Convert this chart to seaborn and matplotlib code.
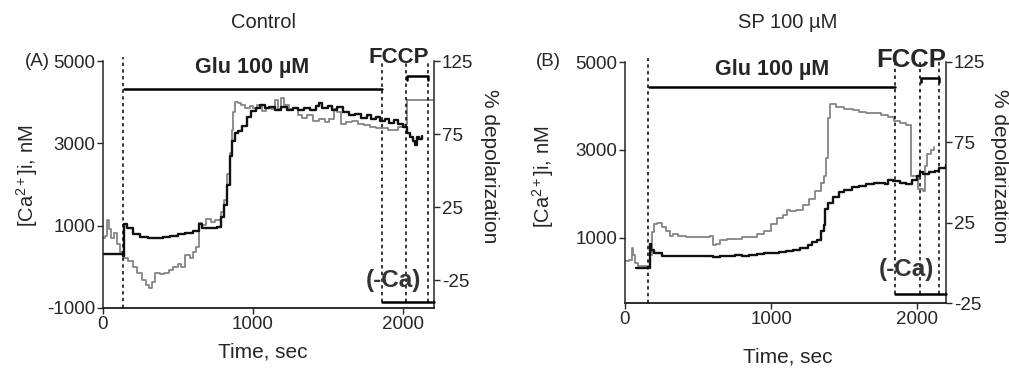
#%% libraries
import numpy as np
import pandas as pd
import seaborn as sb
import matplotlib.pyplot as plt

sb.set_style('ticks')
plt.rcParams['font.family'] = ['Liberation Sans', 'DejaVu Sans']
plt.rcParams['mathtext.fontset'] = 'custom'
plt.rcParams['mathtext.rm'] = 'Liberation Sans'
plt.rcParams['mathtext.it'] = 'Liberation Sans:italic'
plt.rcParams['axes.unicode_minus'] = False

#%% traces
# panel A (Control): black = [Ca2+]i (nM), grey = % depolarization
ctrl_ca_t = [0, 135, 140, 142, 160, 200, 250, 300, 350, 400, 450, 500, 550, 600, 640, 660, 700, 760,
             790, 810, 830, 845, 860, 880, 900, 930, 960, 990, 1020, 1050, 1080, 1110, 1150, 1190,
             1230, 1270, 1300, 1340, 1380, 1420, 1440, 1460, 1500, 1530, 1560, 1600, 1640, 1680,
             1720, 1760, 1790, 1820, 1850, 1880, 1910, 1940, 1970, 2000, 2030, 2050, 2070, 2080,
             2095, 2110, 2125]
ctrl_ca = [310, 260, 260, 1050, 950, 800, 720, 700, 700, 720, 760, 800, 820, 860, 1050, 950, 950, 970,
           1200, 1500, 2000, 2700, 3050, 3250, 3300, 3420, 3650, 3780, 3850, 3930, 3870, 3880, 3820, 3880,
           3800, 3860, 3800, 3870, 3820, 3900, 3980, 3850, 3900, 3820, 3880, 3750, 3700, 3720,
           3620, 3700, 3580, 3650, 3550, 3600, 3500, 3560, 3480, 3400, 3250, 3150, 3050, 2950,
           3150, 3100, 3180]
ctrl_dep_t = [0, 15, 25, 40, 55, 75, 95, 115, 140, 170, 200, 230, 260, 290, 310, 330, 350, 380, 410,
              440, 470, 500, 520, 550, 580, 600, 620, 640, 660, 690, 720, 750, 790, 810, 830, 845, 860,
              870, 880, 900, 920, 950, 980, 1000, 1030, 1060, 1090, 1120, 1150, 1170, 1190, 1210, 1240,
              1270, 1300, 1330, 1360, 1400, 1440, 1480, 1510, 1540, 1560, 1590, 1620, 1660, 1700, 1740,
              1780, 1820, 1860, 1900, 1940, 1970, 2000, 2020, 2025, 2200]
ctrl_dep = [4, 5, 16, 10, 4, 7, 0, -6, -10, -12, -16, -20, -25, -28, -30, -26, -20, -21, -20,
            -18, -16, -14, -16, -8, -10, -6, -2, 14, 13, 17, 15, 16, 22, 30, 48, 62, 78,
            90, 97, 96, 95, 93, 94, 93, 95, 91, 93, 92, 98, 92, 100, 95, 92,
            93, 88, 86, 88, 84, 85, 83, 85, 92, 90, 82, 83, 84, 82, 81,
            80, 79, 79, 78, 78, 80, 81, 82, 98, 98]

# panel B (SP 100 uM)
sp_ca_t = [75, 165, 168, 180, 200, 250, 300, 400, 500, 600, 650, 700, 750, 800, 850, 900, 950, 1000,
           1050, 1100, 1150, 1200, 1250, 1280, 1310, 1340, 1360, 1370, 1390, 1420, 1460, 1500, 1550,
           1600, 1650, 1700, 1750, 1780, 1800, 1830, 1850, 1880, 1920, 1960, 2000, 2020, 2040, 2080,
           2120, 2150, 2195]
sp_ca = [320, 320, 860, 720, 660, 600, 590, 580, 580, 560, 600, 600, 610, 600, 620, 640, 650, 660,
         670, 700, 720, 780, 850, 900, 950, 1150, 1300, 1650, 1800, 1930, 2050, 2100, 2150,
         2170, 2220, 2250, 2260, 2230, 2310, 2290, 2300, 2250, 2230, 2320, 2400, 2500, 2450, 2500,
         2520, 2600, 2650]
sp_dep_t = [0, 30, 45, 55, 68, 90, 160, 170, 185, 200, 220, 250, 280, 310, 330, 360, 420, 500, 580,
            600, 620, 650, 700, 750, 800, 850, 900, 950, 1000, 1040, 1080, 1110, 1130, 1170, 1220,
            1260, 1300, 1340, 1360, 1375, 1390, 1400, 1440, 1500, 1560, 1600, 1650, 1700, 1750, 1800,
            1840, 1880, 1920, 1950, 1955, 1995, 2005, 2040, 2050, 2065, 2090, 2110]
sp_dep = [1, 2, 9, 5, 0, -2, -2, 5, 19, 24, 25, 22, 20, 17, 18, 17, 16, 16, 17,
          11, 12, 14, 15, 15, 16, 16, 18, 20, 24, 28, 30, 33, 32, 33, 36,
          40, 45, 50, 54, 65, 90, 99, 97, 96, 95, 94, 93, 93, 92, 91,
          88, 87, 86, 86, 54, 53, 46, 45, 60, 68, 70, 72]

# event times (s): glutamate on, FCCP/(-Ca) start, FCCP bracket start/end
ctrl_events = [133, 1860, 2020, 2170]
sp_events = [157, 1849, 2016, 2146]

#%% plotting helpers
fig = plt.figure(figsize=(10.09, 3.68), dpi=100)
W, H = 1009, 368


def px_axes(l, r, t, b):
    return fig.add_axes([l / W, 1 - b / H, (r - l) / W, (b - t) / H])


def panel(ax, ca_t, ca, dep_t, dep, ev, xmax, ylim_ca, yticks_ca, ylim_dep, ev_y, fccp_size):
    df_ca = pd.DataFrame({'Time': ca_t, 'Ca': ca})
    df_dep = pd.DataFrame({'Time': dep_t, 'Dep': dep})
    ax2 = ax.twinx()
    sb.lineplot(data=df_dep, x='Time', y='Dep', ax=ax2, color='#858585', lw=1.3,
                estimator=None, sort=False, drawstyle='steps-post')
    sb.lineplot(data=df_ca, x='Time', y='Ca', ax=ax, color='#111111', lw=1.7,
                estimator=None, sort=False, drawstyle='steps-post')
    ax.set_zorder(ax2.get_zorder() + 1)
    ax.patch.set_visible(False)

    ax.set_xlim(0, xmax)
    ax.set_ylim(*ylim_ca)
    ax.set_yticks(yticks_ca)
    ax.set_xticks([0, 1000, 2000])
    ax2.set_ylim(*ylim_dep)
    ax2.set_yticks([-25, 25, 75, 125])
    for a in (ax, ax2):
        a.set_xlabel('')
        a.set_ylabel('')
        a.tick_params(labelsize=13.5, length=4, width=1, direction='out', pad=1.5)
        for s in a.spines.values():
            s.set_linewidth(1.1)
        a.spines['top'].set_visible(False)
    ax.spines['right'].set_visible(False)
    ax2.spines['left'].set_visible(False)

    tr = ax.get_xaxis_transform()
    g_on, f_on, b1, b2 = ev
    glu_y, fccp_y, glu_txt_y, fccp_txt_y, ca_txt_y, bot_y = ev_y
    ax.axvline(g_on, 0, 1.015, color='k', ls=(0, (2.2, 2.2)), lw=1.1, clip_on=False)
    for t in (f_on, b1, b2):
        ax.axvline(t, bot_y, 1.0, color='k', ls=(0, (2.2, 2.2)), lw=1.1, clip_on=False)
    ax.plot([g_on + 10, f_on], [glu_y, glu_y], transform=tr, color='k', lw=1.8, clip_on=False)
    ax.plot([b1 + 10, b1 + 10, b2, b2], [fccp_y - 0.016, fccp_y, fccp_y, fccp_y - 0.016],
            transform=tr, color='k', lw=1.8, clip_on=False)
    ax.plot([f_on, xmax], [bot_y, bot_y], transform=tr, color='k', lw=1.8, clip_on=False)
    ax.text((g_on + f_on) / 2, glu_txt_y, 'Glu 100 \u00b5M', transform=tr, ha='center', va='center',
            fontsize=15.5, fontweight='bold')
    ax.text(f_on + 110, fccp_txt_y, 'FCCP', transform=tr, ha='center', va='center',
            fontsize=fccp_size, fontweight='bold')
    ax.text(f_on + 75, ca_txt_y, '(-Ca)', transform=tr, ha='center', va='center',
            fontsize=17.5, fontweight='bold', color='#333333')
    return ax2


#%% panel A
axA = px_axes(103, 434, 61, 308)
panel(axA, ctrl_ca_t, ctrl_ca, ctrl_dep_t, ctrl_dep, ctrl_events, 2207,
      (-1000, 5000), [-1000, 1000, 3000, 5000], (-44, 125),
      (0.887, 0.939, 0.972, 1.016, 0.113, 0.024), 16)

#%% panel B
axB = px_axes(625, 946, 62, 303)
panel(axB, sp_ca_t, sp_ca, sp_dep_t, sp_dep, sp_events, 2195,
      (-480, 5000), [1000, 3000, 5000], (-25, 125),
      (0.896, 0.934, 0.967, 1.008, 0.137, 0.037), 18.5)

#%% labels and titles placed in figure pixels
def ftext(x, y, s, **kw):
    fig.text(x / W, 1 - y / H, s, ha='center', va='center', **kw)


ftext(263, 23, 'Control', fontsize=14.5)
ftext(788, 23, 'SP 100 \u00b5M', fontsize=14.5)
ftext(37, 61, '(A)', fontsize=13.5)
ftext(548, 62, '(B)', fontsize=13.5)
ftext(263, 352, 'Time, sec', fontsize=15)
ftext(788, 357, 'Time, sec', fontsize=15)
ftext(27, 176, '[Ca$^{2+}$]i, nM', fontsize=14.5, rotation=90)
ftext(543, 177, '[Ca$^{2+}$]i, nM', fontsize=14.5, rotation=90)
ftext(490, 166, '% depolarization', fontsize=15, rotation=270)
ftext(1000, 166, '% depolarization', fontsize=15, rotation=270)

plt.savefig('out.png', dpi=100)
